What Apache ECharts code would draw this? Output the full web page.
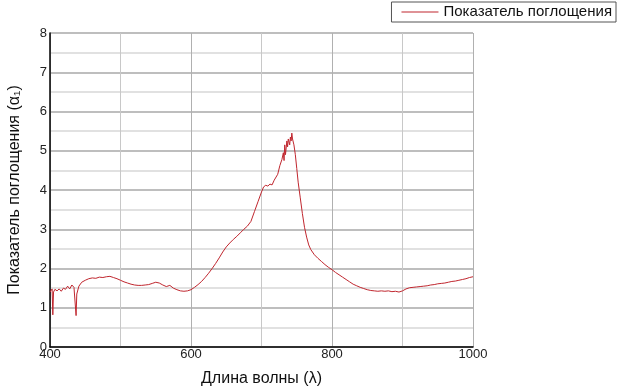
<!DOCTYPE html>
<html>
<head>
<meta charset="utf-8">
<script src="https://cdn.jsdelivr.net/npm/echarts@6/dist/echarts.min.js"></script>
<style>html,body{margin:0;padding:0;background:#fff}#c{width:623px;height:392px}</style>
</head>
<body>
<div id="c"></div>
<script>
const wavelengths = [400,402,403,404,405,407,410,413,416,419,422,425,428,431,434,436,437,438,441,445,450,455,460,465,470,475,480,485,490,495,500,505,510,515,520,525,530,535,540,545,550,555,560,565,570,575,580,585,590,595,600,605,610,615,620,625,630,635,640,645,650,655,660,665,670,675,680,685,690,695,700,703,706,709,712,715,718,720,723,726,729,731,732,733,734,736,737,738,740,741,742,743,744,746,748,750,752,755,758,761,764,767,770,775,780,785,790,795,800,805,810,815,820,825,830,835,840,845,850,855,860,865,870,875,880,885,890,895,900,905,910,915,920,925,930,935,940,945,950,955,960,965,970,975,980,985,990,995,1000];
const absorption = [1.40,1.45,1.48,0.82,1.40,1.47,1.43,1.48,1.42,1.50,1.47,1.55,1.48,1.58,1.52,1.47,0.80,1.35,1.55,1.65,1.70,1.74,1.76,1.75,1.78,1.77,1.79,1.80,1.77,1.74,1.70,1.66,1.63,1.60,1.58,1.57,1.57,1.58,1.59,1.62,1.65,1.63,1.58,1.54,1.57,1.50,1.46,1.43,1.42,1.43,1.46,1.52,1.59,1.67,1.77,1.88,2.00,2.13,2.27,2.42,2.55,2.65,2.74,2.82,2.91,3.00,3.08,3.20,3.45,3.70,3.95,4.08,4.12,4.10,4.15,4.13,4.25,4.20,4.40,4.62,4.78,4.95,4.75,5.15,4.90,5.25,5.10,5.30,5.15,5.35,5.25,5.45,5.30,5.15,4.90,4.55,4.20,3.80,3.40,3.05,2.80,2.60,2.48,2.35,2.26,2.18,2.10,2.03,1.97,1.90,1.84,1.78,1.72,1.66,1.60,1.56,1.52,1.49,1.46,1.44,1.43,1.42,1.43,1.42,1.43,1.41,1.42,1.40,1.43,1.48,1.51,1.52,1.53,1.54,1.55,1.56,1.58,1.59,1.61,1.62,1.63,1.65,1.67,1.68,1.70,1.72,1.74,1.77,1.79];
const seriesName = 'Показатель поглощения';
const xTitle = 'Длина волны (λ)';
const yTitle = 'Показатель поглощения (α₁)';

const chart = echarts.init(document.getElementById('c'), null, {renderer: 'canvas'});
const font = 'Liberation Sans, Arial, sans-serif';
chart.setOption({
  animation: false,
  backgroundColor: '#fff',
  textStyle: {fontFamily: font},
  legend: {
    right: 7, top: 2,
    orient: 'horizontal',
    data: [{name: seriesName, icon: 'rect'}],
    itemWidth: 37, itemHeight: 1,
    itemGap: 4,
    padding: [2, 4, 2, 10],
    borderColor: '#555', borderWidth: 1, borderRadius: 0,
    textStyle: {fontSize: 15, color: '#111', fontFamily: font, lineHeight: 16}
  },
  grid: {left: 50, right: 150, top: 33, bottom: 45, containLabel: false, outerBoundsMode: 'none'},
  xAxis: {
    type: 'value', min: 400, max: 1000, interval: 200,
    name: xTitle, nameLocation: 'middle', nameGap: 24,
    nameTextStyle: {fontSize: 16, color: '#111', fontFamily: font},
    axisLine: {show: true, onZero: false, lineStyle: {color: '#000', width: 1.5}},
    axisTick: {show: false},
    axisLabel: {fontSize: 13, color: '#222', margin: 1, fontFamily: font, formatter: v => String(v)},
    splitLine: {show: true, lineStyle: {color: '#b0b0b0', width: 1}},
    minorTick: {show: false, splitNumber: 2},
    minorSplitLine: {show: true, lineStyle: {color: '#c8c8c8', width: 1}}
  },
  yAxis: {
    type: 'value', min: 0, max: 8, interval: 1,
    name: yTitle, nameLocation: 'middle', nameGap: 27, nameRotate: 90,
    nameTextStyle: {fontSize: 16, color: '#111', fontFamily: font},
    axisLine: {show: true, lineStyle: {color: '#000', width: 1.5}},
    axisTick: {show: false},
    axisLabel: {fontSize: 13, color: '#222', margin: 3, fontFamily: font},
    splitLine: {show: true, lineStyle: {color: '#a8a8a8', width: 1.5}},
    minorTick: {show: false, splitNumber: 2},
    minorSplitLine: {show: true, lineStyle: {color: '#d8d8d8', width: 1.5}}
  },
  series: [{
    name: seriesName,
    type: 'line',
    data: wavelengths.map((w, i) => [w, absorption[i]]),
    symbol: 'none',
    lineStyle: {color: '#c0262e', width: 1},
    itemStyle: {color: '#c0262e'}
  }]
});
</script>
</body>
</html>
